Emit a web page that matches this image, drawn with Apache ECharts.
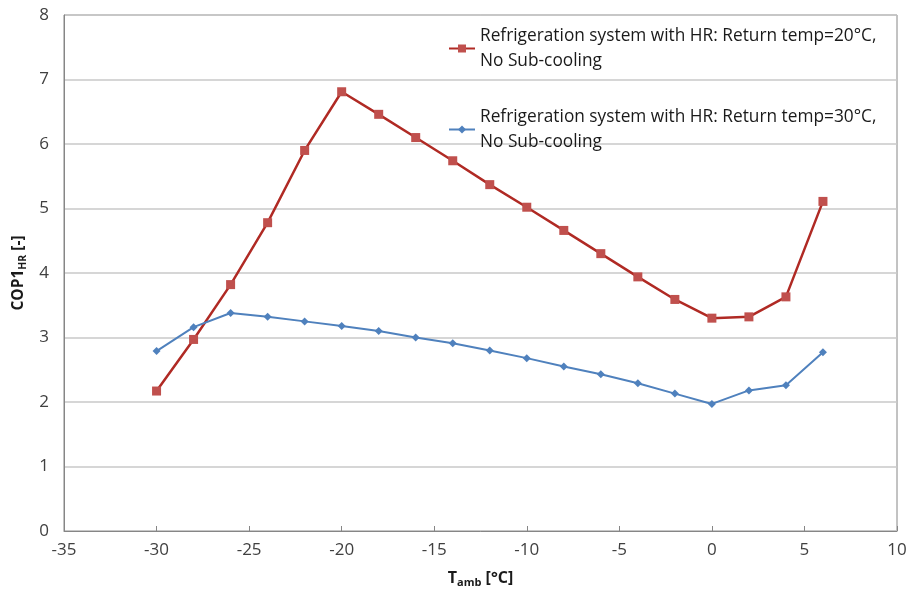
<!DOCTYPE html>
<html><head><meta charset="utf-8">
<script src="https://cdn.jsdelivr.net/npm/echarts@6/dist/echarts.min.js"></script>
<style>html,body{margin:0;padding:0;background:#fff}#c{width:913px;height:600px}</style>
</head><body><div id="c"></div>
<script>
const tamb = [-30,-28,-26,-24,-22,-20,-18,-16,-14,-12,-10,-8,-6,-4,-2,0,2,4,6];
const cop20 = [2.17,2.97,3.82,4.78,5.90,6.81,6.46,6.10,5.74,5.37,5.02,4.66,4.30,3.94,3.59,3.30,3.32,3.63,5.11];
const cop30 = [2.79,3.16,3.38,3.32,3.25,3.18,3.10,3.00,2.91,2.80,2.68,2.55,2.43,2.29,2.13,1.97,2.18,2.26,2.77];
const name20 = 'Refrigeration system with HR: Return temp=20°C,\nNo Sub-cooling';
const name30 = 'Refrigeration system with HR: Return temp=30°C,\nNo Sub-cooling';
const FONT = 'Open Sans';
const chart = echarts.init(document.getElementById('c'));
chart.setOption({
  animation: false,
  textStyle: {fontFamily: FONT},
  grid: {left: 64, right: 16, top: 15, bottom: 69, show: true, borderColor: '#868686', borderWidth: 1},
  legend: {
    orient: 'vertical', left: 443, top: 6, itemGap: 6,
    itemWidth: 26, itemHeight: 10,
    textStyle: {fontFamily: FONT, fontSize: 17.3, color: '#1a1a1a', lineHeight: 25, padding: [25,0,0,0]},
    data: [name20, name30]
  },
  xAxis: {
    type: 'value', min: -35, max: 10, interval: 5,
    name: 'T{sub|amb} [°C]', nameLocation: 'middle', nameGap: 38,
    nameTextStyle: {fontFamily: FONT, fontSize: 16, fontWeight: 'bold', color: '#1a1a1a',
      rich: {sub: {fontSize: 11, fontWeight: 'bold', color: '#1a1a1a', padding: [8,0,0,0]}}},
    axisLine: {onZero: false, lineStyle: {color: '#868686'}},
    axisTick: {inside: true, length: 5, lineStyle: {color: '#868686'}},
    axisLabel: {fontSize: 17, color: '#404040', margin: 11},
    splitLine: {show: false}
  },
  yAxis: {
    type: 'value', min: 0, max: 8, interval: 1,
    name: 'COP1{sub|HR} [-]', nameLocation: 'middle', nameGap: 35,
    nameTextStyle: {fontFamily: FONT, fontSize: 15.5, fontWeight: 'bold', color: '#1a1a1a',
      rich: {sub: {fontSize: 10.5, fontWeight: 'bold', color: '#1a1a1a', padding: [8,0,0,0]}}},
    axisLine: {show: true, onZero: false, lineStyle: {color: '#868686'}},
    axisTick: {show: false},
    axisLabel: {fontSize: 17, color: '#404040', margin: 15},
    splitLine: {lineStyle: {color: '#c8c8c8', width: 1.5}}
  },
  series: [
    {name: name20, type: 'line', data: tamb.map((x,i)=>[x,cop20[i]]),
     symbol: 'rect', symbolSize: 9, color: '#C0504D',
     lineStyle: {width: 2.5, color: '#B02A24'}, itemStyle: {color: '#C0504D'}},
    {name: name30, type: 'line', data: tamb.map((x,i)=>[x,cop30[i]]),
     symbol: 'diamond', symbolSize: 8, color: '#4F81BD',
     lineStyle: {width: 2, color: '#4F81BD'}, itemStyle: {color: '#4F81BD'}}
  ]
});
</script></body></html>
